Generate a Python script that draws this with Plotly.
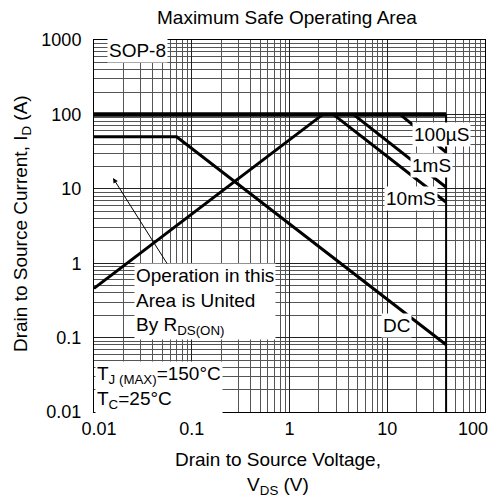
import plotly.graph_objects as go

# ---- data ----
x_ticks = [0.01, 0.1, 1, 10, 100]
x_tick_labels = ["\u00a0\u00a00.01", "0.1", "1", "10", "100"]
y_ticks = [0.01, 0.1, 1, 10, 100, 1000]
y_tick_labels = ["0.01", "0.1", "1", "10", "100", "1000"]

rds_v = [0.01, 2.2]
rds_i = [0.46, 100]

limit_v = [0.01, 40]
limit_i = [100, 100]

vmax_v = [40, 40]
vmax_i = [100, 0.01]

t100us_v = [13.5, 40]
t100us_i = [100, 31]

t1ms_v = [4.5, 40]
t1ms_i = [100, 10.5]

t10ms_v = [2.8, 40]
t10ms_i = [100, 6.6]

dc_v = [0.01, 0.07, 40]
dc_i = [50, 50, 0.08]

minor_x = [m * 10 ** k for k in range(-2, 2) for m in range(2, 10)]
minor_y = [m * 10 ** k for k in range(-2, 3) for m in range(2, 10)]

FONT = "Liberation Sans, Arial, sans-serif"

fig = go.Figure()
for vx, iy, w in [(rds_v, rds_i, 3), (dc_v, dc_i, 3), (t10ms_v, t10ms_i, 3),
                  (t1ms_v, t1ms_i, 3), (t100us_v, t100us_i, 3),
                  (limit_v, limit_i, 4.5), (vmax_v, vmax_i, 2)]:
    fig.add_trace(go.Scatter(x=vx, y=iy, mode="lines",
                             line=dict(color="black", width=w),
                             showlegend=False, hoverinfo="skip"))

OFF = 8  # default page body margin
L, R, T, B = 94 - OFF, 485 - OFF, 40 - OFF, 412 - OFF
W, H = 499 - OFF, 501 - OFF


def px(xp):
    return (xp - OFF - L) / (R - L)


def py(yp):
    return (B - (yp - OFF)) / (B - T)


ann = []


def label(text, x, y, xanchor="center", align="center", size=19, bg="white"):
    ann.append(dict(text=text, x=px(x), y=py(y), xref="paper", yref="paper",
                    xanchor=xanchor, yanchor="middle", align=align,
                    showarrow=False, bgcolor=bg, borderpad=1,
                    font=dict(family=FONT, size=size, color="black")))


label("SOP-8", 137, 51)
label("100µS", 441, 134)
label("1mS", 431, 165)
label("10mS", 411, 199)
label("DC", 396, 325)
label("Operation in this<br>Area is United<br>By R<sub>DS(ON)</sub>", 134, 301,
      xanchor="left", align="left")
label("T<sub>J (MAX)</sub>=150°C<br>T<sub>C</sub>=25°C", 95, 387,
      xanchor="left", align="left")

# last x tick label placed so it stays inside the visible page
last_ix = len(x_tick_labels) - 1
label(x_tick_labels[last_ix], 490, 429, xanchor="right", size=18,
      bg="rgba(0,0,0,0)")

# arrow
ann.append(dict(text="", x=px(113), y=py(178), xref="paper", yref="paper",
                showarrow=True, arrowhead=2, arrowsize=1, arrowwidth=1,
                arrowcolor="black", axref="pixel", ayref="pixel",
                ax=168 - 113, ay=265 - 178))

# title and axis titles
ann.append(dict(text="Maximum Safe Operating Area", x=px(287), y=py(17),
                xref="paper", yref="paper", showarrow=False,
                xanchor="center", yanchor="middle",
                font=dict(family=FONT, size=19, color="black")))
ann.append(dict(text="Drain to Source Voltage,<br>V<sub>DS</sub> (V)", x=px(278),
                y=py(473), xref="paper", yref="paper", showarrow=False,
                xanchor="center", yanchor="middle",
                font=dict(family=FONT, size=19, color="black")))
ann.append(dict(text="Drain to Source Current, I<sub>D</sub> (A)", x=px(22),
                y=py(224), xref="paper", yref="paper", showarrow=False,
                xanchor="center", yanchor="middle", textangle=-90,
                font=dict(family=FONT, size=19, color="black")))

axis_common = dict(type="log", showline=True, mirror=True, linecolor="black",
                   linewidth=1, showgrid=True, gridcolor="#222", gridwidth=1,
                   zeroline=False, automargin=False,
                   tickfont=dict(family=FONT, size=18, color="black"))

shown_x_labels = x_tick_labels[:last_ix] + [""]

fig.update_layout(
    width=W, height=H,
    margin=dict(l=L, r=W - R, t=T, b=H - B, autoexpand=False),
    paper_bgcolor="white", plot_bgcolor="white",
    xaxis=dict(range=[-2, 2], tickvals=x_ticks, ticktext=shown_x_labels,
               ticks="", ticklabeloverflow="allow",
               minor=dict(tickvals=minor_x, showgrid=True, gridcolor="#555",
                          gridwidth=1),
               **axis_common),
    yaxis=dict(range=[-2, 3], tickvals=y_ticks, ticktext=y_tick_labels,
               ticks="outside", ticklen=8, tickcolor="rgba(0,0,0,0)",
               minor=dict(tickvals=minor_y, showgrid=True, gridcolor="#555",
                          gridwidth=1),
               **axis_common),
    annotations=ann,
)

fig.write_html("out.html")
